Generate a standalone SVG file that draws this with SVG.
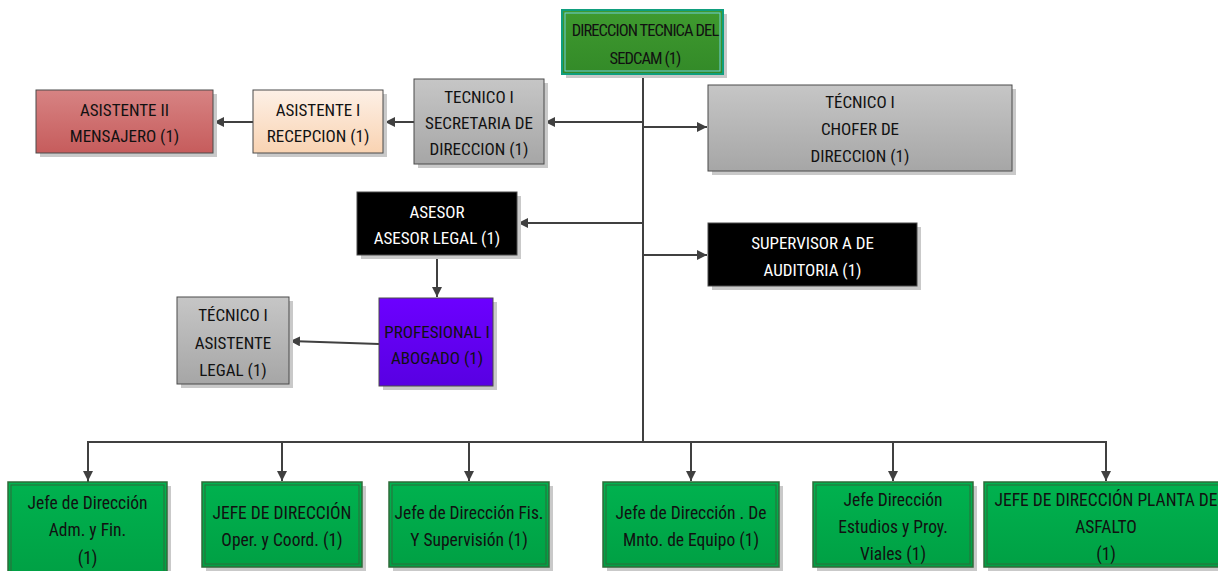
<svg xmlns="http://www.w3.org/2000/svg" width="1218" height="571" viewBox="0 0 1218 571">
<defs>
<linearGradient id="gRed" x1="0" y1="0" x2="0" y2="1"><stop offset="0" stop-color="#d78383"/><stop offset="1" stop-color="#c65c5c"/></linearGradient>
<linearGradient id="gPeach" x1="0" y1="0" x2="0" y2="1"><stop offset="0" stop-color="#fdf0e6"/><stop offset="1" stop-color="#f9d3b2"/></linearGradient>
<linearGradient id="gGray" x1="0" y1="0" x2="0" y2="1"><stop offset="0" stop-color="#c6c6c6"/><stop offset="1" stop-color="#a6a6a6"/></linearGradient>
<linearGradient id="gPurple" x1="0" y1="0" x2="0" y2="1"><stop offset="0" stop-color="#6c00ff"/><stop offset="1" stop-color="#5800e2"/></linearGradient>
<linearGradient id="gGreen" x1="0" y1="0" x2="0" y2="1"><stop offset="0" stop-color="#00b24f"/><stop offset="1" stop-color="#00a044"/></linearGradient>
<linearGradient id="gTop" x1="0" y1="0" x2="0" y2="1"><stop offset="0" stop-color="#3f9a2f"/><stop offset="1" stop-color="#338a28"/></linearGradient>
<marker id="arr" viewBox="0 0 10 10" refX="10" refY="5" markerWidth="10" markerHeight="10" markerUnits="userSpaceOnUse" orient="auto">
<path d="M0,0 L10,5 L0,10 Z" fill="#404040"/>
</marker>
</defs>
<style>
text{font-family:"Liberation Sans Narrow","Roboto Condensed","DejaVu Sans Condensed","Liberation Sans",sans-serif;font-size:17px;text-anchor:middle;fill:#111111}
.w{fill:#ffffff}
.b{font-size:17.5px}
.sh{fill:#c9c9c9}
.box{stroke:#4a4a4a;stroke-width:1}
.grn{fill:url(#gGreen);stroke:#2f6b3a;stroke-width:1.5}
.inner{fill:none;stroke:#2f6b3a;stroke-width:1}
.con{fill:none;stroke:#404040;stroke-width:2}
.top{font-size:16.5px;letter-spacing:-0.9px}
</style>
<rect width="1218" height="571" fill="#ffffff"/>

<g id="connectors">
<path class="con" d="M643,74 V442"/>
<path class="con" d="M643,122 H545" marker-end="url(#arr)"/>
<path class="con" d="M643,127 H707" marker-end="url(#arr)"/>
<path class="con" d="M643,223 H518" marker-end="url(#arr)"/>
<path class="con" d="M643,255 H707" marker-end="url(#arr)"/>
<path class="con" d="M414,122 H385" marker-end="url(#arr)"/>
<path class="con" d="M253,122 H214" marker-end="url(#arr)"/>
<path class="con" d="M437,255 V297" marker-end="url(#arr)"/>
<path class="con" d="M379,344 L290,341" marker-end="url(#arr)"/>
<path class="con" d="M88,482 V442 H1106 V481" marker-end="url(#arr)"/>
<path class="con" d="M88,442 V481" marker-end="url(#arr)"/>
<path class="con" d="M282,442 V481" marker-end="url(#arr)"/>
<path class="con" d="M469,442 V481" marker-end="url(#arr)"/>
<path class="con" d="M691,442 V481" marker-end="url(#arr)"/>
<path class="con" d="M893,442 V481" marker-end="url(#arr)"/>
</g>

<g id="n-direccion">
<rect class="sh" x="566" y="14" width="161" height="64"/>
<rect x="562" y="10" width="161" height="64" fill="url(#gTop)" stroke="#0f9e7e" stroke-width="2"/>
<rect x="565" y="13" width="155" height="58" fill="none" stroke="#6fd0dc" stroke-width="1"/>
<text class="top" x="645" y="36">DIRECCION TECNICA DEL</text>
<text class="top" x="645" y="64">SEDCAM (1)</text>
</g>

<g id="n-mensajero">
<rect class="sh" x="40" y="94" width="177" height="63"/>
<rect class="box" x="36" y="90" width="177" height="63" fill="url(#gRed)"/>
<text x="124.5" y="116">ASISTENTE II</text>
<text x="124.5" y="142">MENSAJERO (1)</text>
</g>

<g id="n-recepcion">
<rect class="sh" x="257" y="94" width="130" height="63"/>
<rect class="box" x="253" y="90" width="130" height="63" fill="url(#gPeach)"/>
<text x="318" y="116">ASISTENTE I</text>
<text x="318" y="142">RECEPCION (1)</text>
</g>

<g id="n-secretaria">
<rect class="sh" x="418" y="83" width="130" height="85"/>
<rect class="box" x="414" y="79" width="130" height="85" fill="url(#gGray)"/>
<text x="479" y="103">TECNICO I</text>
<text x="479" y="129">SECRETARIA DE</text>
<text x="479" y="155">DIRECCION (1)</text>
</g>

<g id="n-chofer">
<rect class="sh" x="712" y="89" width="304" height="86"/>
<rect class="box" x="708" y="85" width="304" height="86" fill="url(#gGray)"/>
<text x="860" y="108">TÉCNICO I</text>
<text x="860" y="135">CHOFER DE</text>
<text x="860" y="162">DIRECCION (1)</text>
</g>

<g id="n-asesor">
<rect class="sh" x="361" y="196" width="160" height="63"/>
<rect class="box" x="357" y="192" width="160" height="63" fill="#000000"/>
<text class="w" x="437" y="218">ASESOR</text>
<text class="w" x="437" y="244">ASESOR LEGAL (1)</text>
</g>

<g id="n-supervisor">
<rect class="sh" x="712" y="227" width="209" height="63"/>
<rect class="box" x="708" y="223" width="209" height="63" fill="#000000"/>
<text class="w" x="812.5" y="249">SUPERVISOR A DE</text>
<text class="w" x="812.5" y="276">AUDITORIA (1)</text>
</g>

<g id="n-profesional">
<rect class="sh" x="383" y="302" width="114" height="88"/>
<rect class="box" x="379" y="298" width="114" height="88" fill="url(#gPurple)"/>
<text x="437" y="338">PROFESIONAL I</text>
<text x="437" y="364">ABOGADO (1)</text>
</g>

<g id="n-asistente-legal">
<rect class="sh" x="181" y="301" width="112" height="87"/>
<rect class="box" x="177" y="297" width="112" height="87" fill="url(#gGray)"/>
<text x="233" y="321">TÉCNICO I</text>
<text x="233" y="349">ASISTENTE</text>
<text x="233" y="376">LEGAL (1)</text>
</g>

<g id="n-adm">
<rect class="sh" x="12" y="486" width="159" height="95"/>
<rect class="grn" x="8" y="482" width="159" height="95"/>
<rect class="inner" x="11" y="485" width="153" height="95"/>
<text class="b" x="87.5" y="509">Jefe de Dirección</text>
<text class="b" x="87.5" y="536">Adm. y Fin.</text>
<text class="b" x="87.5" y="564">(1)</text>
</g>

<g id="n-oper">
<rect class="sh" x="206" y="486" width="160" height="85"/>
<rect class="grn" x="202" y="482" width="160" height="85"/>
<rect class="inner" x="205" y="485" width="154" height="79"/>
<text class="b" x="282" y="519">JEFE DE DIRECCIÓN</text>
<text class="b" x="282" y="546">Oper. y Coord. (1)</text>
</g>

<g id="n-fis">
<rect class="sh" x="393" y="486" width="160" height="85"/>
<rect class="grn" x="389" y="482" width="160" height="85"/>
<rect class="inner" x="392" y="485" width="154" height="79"/>
<text class="b" x="469" y="519">Jefe de Dirección Fis.</text>
<text class="b" x="469" y="546">Y Supervisión (1)</text>
</g>

<g id="n-mnto">
<rect class="sh" x="607" y="486" width="176" height="85"/>
<rect class="grn" x="603" y="482" width="176" height="85"/>
<rect class="inner" x="606" y="485" width="170" height="79"/>
<text class="b" x="691" y="519">Jefe de Dirección . De</text>
<text class="b" x="691" y="546">Mnto. de Equipo (1)</text>
</g>

<g id="n-estudios">
<rect class="sh" x="817" y="486" width="160" height="85"/>
<rect class="grn" x="813" y="482" width="160" height="85"/>
<rect class="inner" x="816" y="485" width="154" height="79"/>
<text class="b" x="893" y="506">Jefe Dirección</text>
<text class="b" x="893" y="533">Estudios y Proy.</text>
<text class="b" x="893" y="560">Viales (1)</text>
</g>

<g id="n-asfalto">
<rect class="sh" x="988" y="486" width="244" height="85"/>
<rect class="grn" x="984" y="482" width="244" height="85"/>
<rect class="inner" x="987" y="485" width="238" height="79"/>
<text class="b" x="1106" y="506">JEFE DE DIRECCIÓN PLANTA DE</text>
<text class="b" x="1106" y="533">ASFALTO</text>
<text class="b" x="1106" y="560">(1)</text>
</g>
</svg>
